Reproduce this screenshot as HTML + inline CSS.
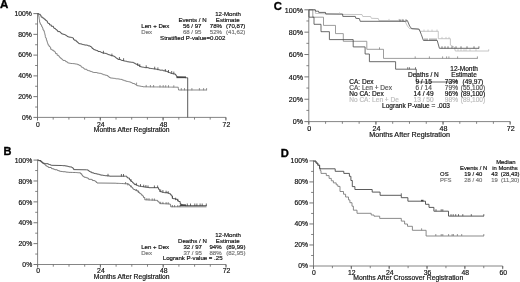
<!DOCTYPE html>
<html><head><meta charset="utf-8"><title>Figure</title>
<style>
html,body{margin:0;padding:0;background:#fff;}
body{width:520px;height:282px;overflow:hidden;}
svg{display:block;filter:blur(0.25px);font-family:"Liberation Sans",sans-serif;}
</style></head><body>
<svg width="520" height="282" viewBox="0 0 520 282">
<rect width="520" height="282" fill="#fff"/>
<path d="M37.5,13.1 V117.4 H225.89999999999998" stroke="#666" stroke-width="0.8" fill="none" />
<path d="M33.4,13.60 H37.5" stroke="#666" stroke-width="0.9" fill="none" />
<text x="31.9" y="15.90" font-size="6.8" fill="#111" text-anchor="end" font-weight="normal" stroke="#111" stroke-width="0.18">100%</text>
<path d="M35.1,23.98 H37.5" stroke="#666" stroke-width="0.8" fill="none" />
<path d="M33.4,34.36 H37.5" stroke="#666" stroke-width="0.9" fill="none" />
<text x="31.9" y="36.66" font-size="6.8" fill="#111" text-anchor="end" font-weight="normal" stroke="#111" stroke-width="0.18">80%</text>
<path d="M35.1,44.74 H37.5" stroke="#666" stroke-width="0.8" fill="none" />
<path d="M33.4,55.12 H37.5" stroke="#666" stroke-width="0.9" fill="none" />
<text x="31.9" y="57.42" font-size="6.8" fill="#111" text-anchor="end" font-weight="normal" stroke="#111" stroke-width="0.18">60%</text>
<path d="M35.1,65.50 H37.5" stroke="#666" stroke-width="0.8" fill="none" />
<path d="M33.4,75.88 H37.5" stroke="#666" stroke-width="0.9" fill="none" />
<text x="31.9" y="78.18" font-size="6.8" fill="#111" text-anchor="end" font-weight="normal" stroke="#111" stroke-width="0.18">40%</text>
<path d="M35.1,86.26 H37.5" stroke="#666" stroke-width="0.8" fill="none" />
<path d="M33.4,96.64 H37.5" stroke="#666" stroke-width="0.9" fill="none" />
<text x="31.9" y="98.94" font-size="6.8" fill="#111" text-anchor="end" font-weight="normal" stroke="#111" stroke-width="0.18">20%</text>
<path d="M35.1,107.02 H37.5" stroke="#666" stroke-width="0.8" fill="none" />
<path d="M33.4,117.40 H37.5" stroke="#666" stroke-width="0.9" fill="none" />
<text x="31.9" y="119.70" font-size="6.8" fill="#111" text-anchor="end" font-weight="normal" stroke="#111" stroke-width="0.18">0%</text>
<path d="M37.50,117.4 v2.2" stroke="#666" stroke-width="0.8" fill="none" />
<path d="M53.20,117.4 v2.2" stroke="#666" stroke-width="0.8" fill="none" />
<path d="M68.90,117.4 v2.2" stroke="#666" stroke-width="0.8" fill="none" />
<path d="M84.60,117.4 v2.2" stroke="#666" stroke-width="0.8" fill="none" />
<path d="M100.30,117.4 v2.2" stroke="#666" stroke-width="0.8" fill="none" />
<path d="M116.00,117.4 v2.2" stroke="#666" stroke-width="0.8" fill="none" />
<path d="M131.70,117.4 v2.2" stroke="#666" stroke-width="0.8" fill="none" />
<path d="M147.40,117.4 v2.2" stroke="#666" stroke-width="0.8" fill="none" />
<path d="M163.10,117.4 v2.2" stroke="#666" stroke-width="0.8" fill="none" />
<path d="M178.80,117.4 v2.2" stroke="#666" stroke-width="0.8" fill="none" />
<path d="M194.50,117.4 v2.2" stroke="#666" stroke-width="0.8" fill="none" />
<path d="M210.20,117.4 v2.2" stroke="#666" stroke-width="0.8" fill="none" />
<path d="M225.90,117.4 v2.2" stroke="#666" stroke-width="0.8" fill="none" />
<path d="M37.50,117.4 v3.2" stroke="#666" stroke-width="0.9" fill="none" />
<text x="38.00" y="126.70" font-size="6.8" fill="#111" text-anchor="middle" font-weight="normal" stroke="#111" stroke-width="0.18">0</text>
<path d="M100.30,117.4 v3.2" stroke="#666" stroke-width="0.9" fill="none" />
<text x="100.80" y="126.70" font-size="6.8" fill="#111" text-anchor="middle" font-weight="normal" stroke="#111" stroke-width="0.18">24</text>
<path d="M163.10,117.4 v3.2" stroke="#666" stroke-width="0.9" fill="none" />
<text x="163.60" y="126.70" font-size="6.8" fill="#111" text-anchor="middle" font-weight="normal" stroke="#111" stroke-width="0.18">48</text>
<path d="M225.90,117.4 v3.2" stroke="#666" stroke-width="0.9" fill="none" />
<text x="226.40" y="126.70" font-size="6.8" fill="#111" text-anchor="middle" font-weight="normal" stroke="#111" stroke-width="0.18">72</text>
<text x="93.8" y="131.60" font-size="6.75" fill="#111" text-anchor="start" font-weight="normal" stroke="#111" stroke-width="0.18">Months After Registration</text>
<text x="0.1" y="8.4" font-size="11.5" fill="#000" text-anchor="start" font-weight="bold" stroke="#000" stroke-width="0.35">A</text>
<path d="M37.5,13.6 L38.2,13.6 H38.35 V14.45 H38.51 V15.23 H38.73 V15.99 H38.86 V16.78 H39.08 V18.66 H39.26 V19.62 H39.60 V22.00 H39.96 V23.30 H40.41 V24.13 H40.91 V25.02 H41.61 V26.28 H41.93 V27.07 H42.57 V28.10 H42.95 V29.87 H43.72 V30.86 H44.28 V32.46 H44.60 V33.38 H44.90 V34.80 H45.24 V36.64 H45.45 V37.55 H45.96 V38.31 H46.40 V40.07 H46.85 V41.00 H47.11 V42.28 H47.52 V43.13 H47.81 V44.13 H48.22 V45.21 H49.10 V46.50 H50.01 V47.32 H50.65 V49.31 H52.04 V50.26 H53.66 V51.24 H54.90 V52.22 H55.50 V53.60 H57.13 V55.32 H58.60 V55.98 H59.22 V57.05 H60.13 V58.09 H61.31 V58.96 H62.30 V59.70 H63.00 V60.45 H65.13 V60.96 H65.81 V61.71 H67.14 V62.29 H67.70 V62.90 H68.40 V63.04 H69.16 V63.17 H70.02 V63.33 H70.84 V63.50 H72.70 V63.63 H74.61 V63.94 H76.20 V64.10 H77.62 V64.68 H79.02 V65.34 H80.42 V65.78 H81.10 V66.81 H81.69 V67.28 H82.60 V67.70 H83.50 V68.29 H84.14 V68.84 H84.67 V69.28 H86.80 V70.00 H87.34 V70.45 H88.54 V70.81 H90.00 V71.30 H91.13 V71.53 H91.80 V71.83 H92.44 V72.14 H93.39 V72.50 H96.86 V72.79 H97.52 V73.09 H99.27 V73.33 H100.88 V73.59 H101.64 V73.95 H102.64 V74.30 H103.38 V74.76 H104.86 V75.01 H105.63 V75.29 H106.98 V75.52 H107.82 V76.42 H108.94 V77.34 H110.00 V77.90 H111.04 V78.01 H111.72 V78.12 H113.17 V78.29 H114.17 V78.40 H115.41 V78.72 H116.10 V78.83 H118.62 V79.10 H119.97 V79.27 H120.60 V79.40 H122.09 V79.90 H123.19 V80.25 H124.35 V80.72 H125.80 V81.25 H127.30 V81.50 H128.30 V81.72 H129.38 V81.98 H130.59 V82.37 H131.30 V82.60 H132.05 V83.22 H132.64 V83.49 H134.38 V83.97 H135.16 V84.36 H135.86 V85.02 H136.89 V85.69 H138.42 V85.97 H140.31 V86.22 H141.35 V86.53 H143.00 V86.80 H145.07 V86.81 H146.39 V86.84 H147.31 V86.84 H147.98 V86.87 H148.89 V86.88 H149.62 V86.89 H150.53 V86.90 H151.24 V86.91 H154.07 V86.93 H155.76 V86.94 H156.44 V86.96 H158.37 V86.96 H158.97 V86.97 H162.09 V86.99 H163.18 V87.00 H163.89 V87.02 H165.60 V87.03 H166.63 V87.04 H167.77 V87.06 H168.48 V87.07 H169.24 V87.10 H169.85 V87.11 H170.53 V87.12 H171.71 V87.14 H173.34 V87.15 H174.00 V87.15 H174.67 V87.17 H175.90 V87.18 H176.92 V87.19 H178.00 V87.20 H178.25 V88.64 H178.50 V90.00 L206.8,90.0" stroke="#767676" stroke-width="0.85" fill="none" />
<path d="M37.5,13.6 L38.1,13.6 H38.73 V14.30 H40.31 V15.32 H41.09 V17.14 H42.80 V18.20 H44.14 V19.24 H45.40 V20.39 H46.63 V21.18 H47.43 V22.78 H48.20 V23.49 H49.52 V24.91 H51.30 V26.30 H53.46 V27.77 H54.16 V28.43 H55.33 V28.98 H55.90 V29.72 H56.89 V30.42 H57.70 V31.60 H59.96 V32.29 H60.66 V33.04 H61.47 V33.81 H62.69 V34.24 H64.18 V34.58 H65.00 V35.00 H65.81 V35.34 H66.53 V35.70 H67.12 V36.57 H68.05 V36.89 H69.34 V37.23 H71.36 V37.62 H72.50 V38.00 H73.49 V39.48 H74.27 V40.25 H76.21 V41.61 H77.46 V42.45 H78.26 V43.11 H78.90 V43.70 H80.19 V43.86 H80.95 V44.00 H82.08 V44.36 H82.77 V44.58 H83.77 V44.81 H84.73 V45.07 H87.40 V45.40 H88.14 V45.90 H90.11 V46.44 H91.00 V47.15 H92.06 V48.46 H93.22 V49.22 H93.80 V49.70 H94.96 V50.05 H96.11 V50.36 H96.77 V50.71 H98.02 V51.53 H100.32 V51.97 H101.32 V52.52 H102.30 V52.90 H103.13 V53.16 H105.04 V53.37 H106.39 V53.80 H107.15 V54.11 H108.14 V54.67 H109.21 V54.88 H110.00 V55.20 H111.32 V55.62 H112.69 V56.03 H114.28 V56.59 H115.10 V57.30 H115.79 V57.94 H116.50 V58.28 H117.19 V58.61 H117.85 V59.42 H120.60 V60.00 H121.28 V60.25 H121.89 V60.48 H123.34 V60.86 H124.32 V61.05 H125.43 V61.22 H126.84 V61.67 H127.71 V61.84 H129.28 V62.09 H131.30 V62.30 H133.36 V62.76 H134.18 V63.26 H135.27 V64.00 H136.65 V64.47 H137.87 V65.24 H139.12 V65.73 H139.80 V66.60 H140.83 V66.85 H141.49 V67.03 H142.57 V67.16 H143.65 V67.30 H144.31 V67.55 H145.05 V67.67 H148.10 V67.86 H149.12 V68.32 H150.34 V68.44 H151.10 V68.56 H152.50 V68.70 H153.10 V68.84 H154.76 V69.00 H155.94 V69.16 H156.79 V69.34 H157.51 V69.60 H158.61 V69.76 H159.35 V69.94 H159.96 V70.16 H163.20 V70.80 H165.52 V71.07 H166.44 V71.42 H167.77 V72.24 H168.66 V72.48 H169.63 V72.79 H170.53 V73.15 H171.30 V73.44 H172.57 V73.77 H173.80 V74.00 H175.51 V74.82 H176.17 V75.95 H177.00 V77.20 H180.29 V77.26 H181.31 V77.32 H182.44 V77.38 H183.09 V77.45 H184.28 V77.53 H184.99 V77.64 H185.63 V77.70 H186.53 V77.81 H187.70 V77.90 L187.7,117.4" stroke="#444" stroke-width="0.88" fill="none" />
<path d="M103.4,53.5 v-2.6999999999999997 M111.9,56.3 v-2.6999999999999997 M119.4,59.7 v-2.6999999999999997 M123.6,60.9 v-2.6999999999999997 M137.7,65.8 v-2.6999999999999997 M139.8,66.9 v-2.6999999999999997 M146.2,68.0 v-2.6999999999999997 M154.7,69.4 v-2.6999999999999997 M157.9,70.1 v-2.6999999999999997 M165.3,71.7 v-2.6999999999999997 M168.5,72.7 v-2.6999999999999997 M171.7,73.7 v-2.6999999999999997 M173.8,74.3 v-2.6999999999999997" stroke="#444" stroke-width="0.8" fill="none" />
<path d="M176.5,77.3 H186" stroke="#444" stroke-width="1.7" fill="none" />
<path d="M136.6,84.8 v-2.1999999999999997 M146.2,87.1 v-2.1999999999999997 M150.4,87.2 v-2.1999999999999997 M153.6,87.2 v-2.1999999999999997 M160.0,87.3 v-2.1999999999999997 M163.2,87.3 v-2.1999999999999997 M165.7,87.4 v-2.1999999999999997 M168.5,87.4 v-2.1999999999999997 M173.8,87.5 v-2.1999999999999997 M181.3,90.3 v-2.1999999999999997 M184.5,90.3 v-2.1999999999999997 M191.9,90.3 v-2.1999999999999997 M199.4,90.3 v-2.1999999999999997 M203.6,90.3 v-2.1999999999999997 M206.6,90.3 v-2.1999999999999997" stroke="#767676" stroke-width="0.8" fill="none" />
<text x="228" y="16.4" font-size="6.1" fill="#111" text-anchor="middle" font-weight="normal" stroke="#111" stroke-width="0.18">12-Month</text>
<text x="192.5" y="22.2" font-size="6.1" fill="#111" text-anchor="middle" font-weight="normal" stroke="#111" stroke-width="0.18">Events / N</text>
<text x="227.7" y="22.2" font-size="6.1" fill="#111" text-anchor="middle" font-weight="normal" stroke="#111" stroke-width="0.18">Estimate</text>
<text x="141.3" y="28.0" font-size="6.1" fill="#111" text-anchor="start" font-weight="normal" stroke="#111" stroke-width="0.18">Len + Dex</text>
<text x="192.2" y="28.0" font-size="6.1" fill="#111" text-anchor="middle" font-weight="normal" stroke="#111" stroke-width="0.18">56 / 97</text>
<text x="215.9" y="28.0" font-size="6.1" fill="#111" text-anchor="middle" font-weight="normal" stroke="#111" stroke-width="0.18">78%</text>
<text x="235.7" y="28.0" font-size="6.1" fill="#111" text-anchor="middle" font-weight="normal" stroke="#111" stroke-width="0.18">(70,87)</text>
<text x="141.3" y="33.7" font-size="6.1" fill="#777" text-anchor="start" font-weight="normal" stroke="#777" stroke-width="0.18">Dex</text>
<text x="192.2" y="33.7" font-size="6.1" fill="#777" text-anchor="middle" font-weight="normal" stroke="#777" stroke-width="0.18">68 / 95</text>
<text x="215.9" y="33.7" font-size="6.1" fill="#777" text-anchor="middle" font-weight="normal" stroke="#777" stroke-width="0.18">52%</text>
<text x="235.7" y="33.7" font-size="6.1" fill="#777" text-anchor="middle" font-weight="normal" stroke="#777" stroke-width="0.18">(41,62)</text>
<text x="192.7" y="39.5" font-size="6.1" fill="#111" text-anchor="middle" font-weight="normal" stroke="#111" stroke-width="0.18">Stratified P-value=0.002</text>
<path d="M37.6,159.6 V264.5 H225.99999999999997" stroke="#666" stroke-width="0.8" fill="none" />
<path d="M33.5,160.10 H37.6" stroke="#666" stroke-width="0.9" fill="none" />
<text x="32.2" y="162.80" font-size="6.8" fill="#111" text-anchor="end" font-weight="normal" stroke="#111" stroke-width="0.18">100%</text>
<path d="M35.2,170.54 H37.6" stroke="#666" stroke-width="0.8" fill="none" />
<path d="M33.5,180.98 H37.6" stroke="#666" stroke-width="0.9" fill="none" />
<text x="32.2" y="183.68" font-size="6.8" fill="#111" text-anchor="end" font-weight="normal" stroke="#111" stroke-width="0.18">80%</text>
<path d="M35.2,191.42 H37.6" stroke="#666" stroke-width="0.8" fill="none" />
<path d="M33.5,201.86 H37.6" stroke="#666" stroke-width="0.9" fill="none" />
<text x="32.2" y="204.56" font-size="6.8" fill="#111" text-anchor="end" font-weight="normal" stroke="#111" stroke-width="0.18">60%</text>
<path d="M35.2,212.30 H37.6" stroke="#666" stroke-width="0.8" fill="none" />
<path d="M33.5,222.74 H37.6" stroke="#666" stroke-width="0.9" fill="none" />
<text x="32.2" y="225.44" font-size="6.8" fill="#111" text-anchor="end" font-weight="normal" stroke="#111" stroke-width="0.18">40%</text>
<path d="M35.2,233.18 H37.6" stroke="#666" stroke-width="0.8" fill="none" />
<path d="M33.5,243.62 H37.6" stroke="#666" stroke-width="0.9" fill="none" />
<text x="32.2" y="246.32" font-size="6.8" fill="#111" text-anchor="end" font-weight="normal" stroke="#111" stroke-width="0.18">20%</text>
<path d="M35.2,254.06 H37.6" stroke="#666" stroke-width="0.8" fill="none" />
<path d="M33.5,264.50 H37.6" stroke="#666" stroke-width="0.9" fill="none" />
<text x="32.2" y="267.20" font-size="6.8" fill="#111" text-anchor="end" font-weight="normal" stroke="#111" stroke-width="0.18">0%</text>
<path d="M37.60,264.5 v2.2" stroke="#666" stroke-width="0.8" fill="none" />
<path d="M53.30,264.5 v2.2" stroke="#666" stroke-width="0.8" fill="none" />
<path d="M69.00,264.5 v2.2" stroke="#666" stroke-width="0.8" fill="none" />
<path d="M84.70,264.5 v2.2" stroke="#666" stroke-width="0.8" fill="none" />
<path d="M100.40,264.5 v2.2" stroke="#666" stroke-width="0.8" fill="none" />
<path d="M116.10,264.5 v2.2" stroke="#666" stroke-width="0.8" fill="none" />
<path d="M131.80,264.5 v2.2" stroke="#666" stroke-width="0.8" fill="none" />
<path d="M147.50,264.5 v2.2" stroke="#666" stroke-width="0.8" fill="none" />
<path d="M163.20,264.5 v2.2" stroke="#666" stroke-width="0.8" fill="none" />
<path d="M178.90,264.5 v2.2" stroke="#666" stroke-width="0.8" fill="none" />
<path d="M194.60,264.5 v2.2" stroke="#666" stroke-width="0.8" fill="none" />
<path d="M210.30,264.5 v2.2" stroke="#666" stroke-width="0.8" fill="none" />
<path d="M226.00,264.5 v2.2" stroke="#666" stroke-width="0.8" fill="none" />
<path d="M37.60,264.5 v3.2" stroke="#666" stroke-width="0.9" fill="none" />
<text x="38.10" y="273.10" font-size="6.8" fill="#111" text-anchor="middle" font-weight="normal" stroke="#111" stroke-width="0.18">0</text>
<path d="M100.40,264.5 v3.2" stroke="#666" stroke-width="0.9" fill="none" />
<text x="100.90" y="273.10" font-size="6.8" fill="#111" text-anchor="middle" font-weight="normal" stroke="#111" stroke-width="0.18">24</text>
<path d="M163.20,264.5 v3.2" stroke="#666" stroke-width="0.9" fill="none" />
<text x="163.70" y="273.10" font-size="6.8" fill="#111" text-anchor="middle" font-weight="normal" stroke="#111" stroke-width="0.18">48</text>
<path d="M226.00,264.5 v3.2" stroke="#666" stroke-width="0.9" fill="none" />
<text x="226.50" y="273.10" font-size="6.8" fill="#111" text-anchor="middle" font-weight="normal" stroke="#111" stroke-width="0.18">72</text>
<text x="93.8" y="278.80" font-size="6.75" fill="#111" text-anchor="start" font-weight="normal" stroke="#111" stroke-width="0.18">Months After Registration</text>
<text x="3.5" y="155.0" font-size="11" fill="#000" text-anchor="start" font-weight="bold" stroke="#000" stroke-width="0.35">B</text>
<path d="M37.6,160.1 L38.1,160.1 H38.68 V160.71 H40.90 V162.03 H41.93 V162.57 H42.68 V163.29 H43.65 V163.94 H44.90 V164.90 H45.82 V165.90 H46.99 V166.42 H47.79 V166.81 H48.46 V167.49 H51.04 V167.94 H51.67 V168.70 H53.40 V169.10 H54.18 V169.33 H54.94 V169.76 H56.97 V170.03 H57.59 V170.48 H58.52 V170.85 H59.80 V171.30 H60.66 V171.43 H62.16 V171.55 H62.86 V171.74 H65.08 V171.83 H65.71 V171.94 H66.38 V172.17 H68.30 V172.30 H68.98 V172.36 H70.90 V172.40 H72.45 V172.44 H73.09 V172.48 H75.59 V172.57 H76.80 V172.62 H77.55 V172.72 H78.20 V172.76 H78.90 V172.80 H80.53 V173.72 H81.74 V175.01 H82.42 V175.87 H83.20 V176.60 H83.82 V176.88 H84.52 V177.33 H86.30 V177.83 H87.54 V178.14 H88.30 V178.93 H88.93 V179.32 H91.70 V179.80 H92.55 V180.55 H94.65 V181.04 H95.51 V181.45 H96.27 V182.49 H97.00 V183.00 L115.1,183.2 H115.94 V183.29 H116.80 V183.34 H118.29 V183.38 H119.33 V183.43 H120.26 V183.49 H121.69 V183.56 H123.57 V183.70 H125.01 V183.75 H125.60 V183.80 H128.15 V184.27 H129.26 V185.28 H130.03 V185.83 H130.66 V186.48 H131.28 V186.89 H132.00 V187.70 H132.82 V188.90 H133.76 V189.53 H135.04 V190.19 H137.17 V191.05 H138.23 V192.26 H139.58 V193.40 H140.50 V194.00 H141.68 V195.25 H142.77 V196.13 H143.52 V197.52 H144.80 V199.80 H146.20 V199.86 H147.10 V199.89 H147.77 V199.97 H148.43 V200.01 H150.36 V200.06 H151.22 V200.12 H154.19 V200.19 H154.78 V200.27 H155.89 V200.34 H156.50 V200.40 H157.70 V201.47 H158.41 V202.16 H159.70 V203.60 H160.60 V203.66 H161.50 V203.70 H162.83 V203.73 H164.52 V203.78 H165.72 V203.82 H167.44 V203.92 H168.54 V203.96 H169.30 V204.00 H170.26 V204.86 H170.70 V206.80 L206.5,206.8" stroke="#666" stroke-width="0.85" fill="none" />
<path d="M37.6,160.1 L38.1,160.1 H38.76 V160.57 H40.94 V161.62 H41.97 V162.22 H42.80 V163.20 H44.46 V163.47 H45.68 V163.69 H48.13 V164.18 H48.86 V164.49 H49.77 V164.71 H50.57 V165.07 H51.30 V165.30 L61.9,165.5 H62.68 V165.71 H65.06 V165.90 H66.07 V166.04 H67.08 V166.20 H68.19 V166.53 H68.87 V166.82 H70.40 V167.00 H71.95 V167.59 H72.58 V168.16 H73.60 V169.60 L86.4,169.8 H87.52 V170.17 H88.49 V170.88 H89.38 V171.43 H90.06 V171.96 H91.70 V172.80 H93.30 V173.00 H93.96 V173.42 H95.54 V173.76 H96.87 V174.09 H98.49 V174.29 H99.42 V174.69 H100.20 V174.90 H100.96 V175.10 H102.49 V175.20 H103.23 V175.41 H104.22 V175.55 H105.22 V175.74 H107.00 V175.87 H108.84 V176.00 H109.80 V176.20 L125.6,176.2 H126.76 V177.26 H127.52 V178.03 H129.43 V179.59 H130.38 V180.59 H131.00 V181.30 H132.03 V181.98 H132.65 V182.81 H133.70 V183.68 H134.43 V184.57 H136.30 V185.10 H136.97 V185.32 H137.74 V185.70 H138.45 V186.17 H141.00 V186.36 H141.60 V186.60 H142.90 V186.72 H144.05 V186.99 H146.16 V187.22 H147.51 V187.37 H148.37 V187.56 H149.00 V187.70 L157.6,187.7 H158.52 V189.34 H159.70 V191.50 H160.31 V191.70 H161.49 V191.99 H162.31 V192.27 H163.44 V192.49 H164.39 V192.69 H167.89 V193.14 H168.53 V193.29 H169.30 V193.60 H170.39 V194.90 H171.76 V196.16 H172.40 V198.30 H173.03 V198.66 H174.78 V198.99 H176.45 V199.34 H177.13 V199.91 H177.94 V201.08 H178.80 V201.50 H180.17 V203.61 H181.00 V204.70 H182.10 V204.95 H182.76 V205.25 H184.59 V205.44 H185.20 V205.70 L206.5,205.7" stroke="#444" stroke-width="0.88" fill="none" />
<path d="M108.0,176.3 v-2.5 M121.4,176.5 v-2.5 M123.5,176.5 v-2.5 M131.0,181.6 v-2.5 M136.3,185.4 v-2.5 M140.5,186.6 v-2.5 M143.7,187.2 v-2.5 M145.9,187.5 v-2.5 M148.0,187.9 v-2.5 M154.4,188.0 v-2.5 M157.6,188.0 v-2.5 M160.7,192.0 v-2.5 M162.9,192.5 v-2.5 M166.1,193.2 v-2.5 M168.2,193.7 v-2.5 M172.4,198.6 v-2.5 M175.6,200.2 v-2.5 M177.8,201.3 v-2.5" stroke="#444" stroke-width="0.8" fill="none" />
<path d="M180,205.2 H186" stroke="#444" stroke-width="1.6" fill="none" />
<path d="M187.3,206.0 v-2.5 M190.5,206.0 v-2.5 M194.8,206.0 v-2.5 M196.9,206.0 v-2.5 M200.1,206.0 v-2.5 M202.2,206.0 v-2.5 M206.3,206.0 v-2.5" stroke="#444" stroke-width="0.8" fill="none" />
<path d="M125.6,184.1 v-2.1 M127.8,185.4 v-2.1 M131.0,187.4 v-2.1 M136.3,191.2 v-2.1 M138.4,192.7 v-2.1 M146.9,200.2 v-2.1 M149.0,200.3 v-2.1 M152.2,200.5 v-2.1 M154.4,200.6 v-2.1 M160.7,203.9 v-2.1 M162.9,204.0 v-2.1 M166.1,204.2 v-2.1 M168.2,204.3 v-2.1 M172.4,207.1 v-2.1 M174.6,207.1 v-2.1 M177.8,207.1 v-2.1 M179.9,207.1 v-2.1" stroke="#666" stroke-width="0.8" fill="none" />
<text x="228" y="237.4" font-size="6.1" fill="#111" text-anchor="middle" font-weight="normal" stroke="#111" stroke-width="0.18">12-Month</text>
<text x="192.4" y="243.1" font-size="6.1" fill="#111" text-anchor="middle" font-weight="normal" stroke="#111" stroke-width="0.18">Deaths / N</text>
<text x="227.7" y="243.1" font-size="6.1" fill="#111" text-anchor="middle" font-weight="normal" stroke="#111" stroke-width="0.18">Estimate</text>
<text x="141.2" y="248.8" font-size="6.1" fill="#111" text-anchor="start" font-weight="normal" stroke="#111" stroke-width="0.18">Len + Dex</text>
<text x="192.7" y="248.8" font-size="6.1" fill="#111" text-anchor="middle" font-weight="normal" stroke="#111" stroke-width="0.18">32 / 97</text>
<text x="215.5" y="248.8" font-size="6.1" fill="#111" text-anchor="middle" font-weight="normal" stroke="#111" stroke-width="0.18">94%</text>
<text x="235.8" y="248.8" font-size="6.1" fill="#111" text-anchor="middle" font-weight="normal" stroke="#111" stroke-width="0.18">(89,99)</text>
<text x="141.2" y="254.5" font-size="6.1" fill="#777" text-anchor="start" font-weight="normal" stroke="#777" stroke-width="0.18">Dex</text>
<text x="192.7" y="254.5" font-size="6.1" fill="#777" text-anchor="middle" font-weight="normal" stroke="#777" stroke-width="0.18">37 / 95</text>
<text x="215.5" y="254.5" font-size="6.1" fill="#777" text-anchor="middle" font-weight="normal" stroke="#777" stroke-width="0.18">88%</text>
<text x="235.8" y="254.5" font-size="6.1" fill="#777" text-anchor="middle" font-weight="normal" stroke="#777" stroke-width="0.18">(82,95)</text>
<text x="192.7" y="260.3" font-size="6.1" fill="#111" text-anchor="middle" font-weight="normal" stroke="#111" stroke-width="0.18">Logrank P-value = .25</text>
<path d="M308.8,9.3 V121.6 H510.16" stroke="#666" stroke-width="0.8" fill="none" />
<path d="M304.40000000000003,9.80 H308.8" stroke="#666" stroke-width="0.9" fill="none" />
<text x="303.0" y="12.50" font-size="7.1" fill="#111" text-anchor="end" font-weight="normal" stroke="#111" stroke-width="0.18">100%</text>
<path d="M306.40000000000003,20.98 H308.8" stroke="#666" stroke-width="0.8" fill="none" />
<path d="M304.40000000000003,32.16 H308.8" stroke="#666" stroke-width="0.9" fill="none" />
<text x="303.0" y="34.86" font-size="7.1" fill="#111" text-anchor="end" font-weight="normal" stroke="#111" stroke-width="0.18">80%</text>
<path d="M306.40000000000003,43.34 H308.8" stroke="#666" stroke-width="0.8" fill="none" />
<path d="M304.40000000000003,54.52 H308.8" stroke="#666" stroke-width="0.9" fill="none" />
<text x="303.0" y="57.22" font-size="7.1" fill="#111" text-anchor="end" font-weight="normal" stroke="#111" stroke-width="0.18">60%</text>
<path d="M306.40000000000003,65.70 H308.8" stroke="#666" stroke-width="0.8" fill="none" />
<path d="M304.40000000000003,76.88 H308.8" stroke="#666" stroke-width="0.9" fill="none" />
<text x="303.0" y="79.58" font-size="7.1" fill="#111" text-anchor="end" font-weight="normal" stroke="#111" stroke-width="0.18">40%</text>
<path d="M306.40000000000003,88.06 H308.8" stroke="#666" stroke-width="0.8" fill="none" />
<path d="M304.40000000000003,99.24 H308.8" stroke="#666" stroke-width="0.9" fill="none" />
<text x="303.0" y="101.94" font-size="7.1" fill="#111" text-anchor="end" font-weight="normal" stroke="#111" stroke-width="0.18">20%</text>
<path d="M306.40000000000003,110.42 H308.8" stroke="#666" stroke-width="0.8" fill="none" />
<path d="M304.40000000000003,121.60 H308.8" stroke="#666" stroke-width="0.9" fill="none" />
<text x="303.0" y="124.30" font-size="7.1" fill="#111" text-anchor="end" font-weight="normal" stroke="#111" stroke-width="0.18">0%</text>
<path d="M308.80,121.6 v2.2" stroke="#666" stroke-width="0.8" fill="none" />
<path d="M325.58,121.6 v2.2" stroke="#666" stroke-width="0.8" fill="none" />
<path d="M342.36,121.6 v2.2" stroke="#666" stroke-width="0.8" fill="none" />
<path d="M359.14,121.6 v2.2" stroke="#666" stroke-width="0.8" fill="none" />
<path d="M375.92,121.6 v2.2" stroke="#666" stroke-width="0.8" fill="none" />
<path d="M392.70,121.6 v2.2" stroke="#666" stroke-width="0.8" fill="none" />
<path d="M409.48,121.6 v2.2" stroke="#666" stroke-width="0.8" fill="none" />
<path d="M426.26,121.6 v2.2" stroke="#666" stroke-width="0.8" fill="none" />
<path d="M443.04,121.6 v2.2" stroke="#666" stroke-width="0.8" fill="none" />
<path d="M459.82,121.6 v2.2" stroke="#666" stroke-width="0.8" fill="none" />
<path d="M476.60,121.6 v2.2" stroke="#666" stroke-width="0.8" fill="none" />
<path d="M493.38,121.6 v2.2" stroke="#666" stroke-width="0.8" fill="none" />
<path d="M510.16,121.6 v2.2" stroke="#666" stroke-width="0.8" fill="none" />
<path d="M308.80,121.6 v3.2" stroke="#666" stroke-width="0.9" fill="none" />
<text x="309.30" y="130.60" font-size="7.1" fill="#111" text-anchor="middle" font-weight="normal" stroke="#111" stroke-width="0.18">0</text>
<path d="M375.92,121.6 v3.2" stroke="#666" stroke-width="0.9" fill="none" />
<text x="376.42" y="130.60" font-size="7.1" fill="#111" text-anchor="middle" font-weight="normal" stroke="#111" stroke-width="0.18">24</text>
<path d="M443.04,121.6 v3.2" stroke="#666" stroke-width="0.9" fill="none" />
<text x="443.54" y="130.60" font-size="7.1" fill="#111" text-anchor="middle" font-weight="normal" stroke="#111" stroke-width="0.18">48</text>
<path d="M510.16,121.6 v3.2" stroke="#666" stroke-width="0.9" fill="none" />
<text x="510.66" y="130.60" font-size="7.1" fill="#111" text-anchor="middle" font-weight="normal" stroke="#111" stroke-width="0.18">72</text>
<text x="369.2" y="136.70" font-size="7.2" fill="#111" text-anchor="start" font-weight="normal" stroke="#111" stroke-width="0.18">Months After Registration</text>
<text x="273.8" y="10.3" font-size="11.3" fill="#000" text-anchor="start" font-weight="bold" stroke="#000" stroke-width="0.35">C</text>
<path d="M309.0,9.8 L315.3,9.8 L315.4,13.4 L340.0,14.4 L362.0,14.5 L362.8,16.5 L370.6,16.5 L371.4,18.3 L378.3,18.5 L379.0,20.7 L403.0,20.7 L405.3,21.7 L407.4,26.0 L409.5,28.5 L418.0,29.1 L420.2,31.3 L438.3,31.3 L438.3,38.7 L450.4,38.7 L450.4,45.1 L454.3,47.2 L455.3,51.0 L488.9,51.0" stroke="#b8b8b8" stroke-width="0.8" fill="none" />
<path d="M309,9.8 H312.8 V17.2 H323.5 V25.4 H335.5 V33.6 H343.3 V41.3 H366.8 V49.3 H383.5 V58.4 H477.7" stroke="#858585" stroke-width="0.8" fill="none" />
<path d="M309.0,9.8 L315.3,9.8 L315.5,11.2 L318.5,11.2 L318.7,12.4 L325.5,12.4 L325.7,14.0 L342.6,14.0 L342.8,16.4 L355.3,16.4 L355.8,18.3 L359.4,18.6 L360.2,21.3 L405.5,21.3 L407.4,20.6 L409.6,26.0 L411.7,28.7 L419.1,29.1 L421.3,34.5 L423.4,40.4 L437.2,40.4 L439.4,48.3 L479.1,48.3" stroke="#4a4a4a" stroke-width="0.82" fill="none" />
<path d="M309,9.8 V17.2 H314 V24.3 H321 V31.7 H329.4 V39.6 H353.2 V46.9 H365.1 V54 H369.4 V61.7 H395.6 V69.2 H416.3 V82 H457" stroke="#4a4a4a" stroke-width="0.82" fill="none" />
<path d="M339.5,14.2 v-1.8" stroke="#b8b8b8" stroke-width="0.7" fill="none" />
<path d="M389.0,20.7 v-1.8 M399.0,20.7 v-1.8 M402.0,20.7 v-1.8 M424.0,31.3 v-1.8 M428.0,31.3 v-1.8 M432.0,31.3 v-1.8 M437.0,31.3 v-1.8 M442.0,38.7 v-1.8 M446.0,38.7 v-1.8 M449.0,38.7 v-1.8 M458.0,51.0 v-1.8 M461.0,51.0 v-1.8 M464.0,51.0 v-1.8 M466.0,51.0 v-1.8 M470.0,51.0 v-1.8 M476.0,51.0 v-1.8 M488.7,51.0 v-1.8" stroke="#b8b8b8" stroke-width="0.7" fill="none" />
<path d="M400.0,21.3 v-2.0 M403.0,21.3 v-2.0 M406.0,21.3 v-2.0 M425.0,40.4 v-2.0 M427.0,40.4 v-2.0 M430.0,40.4 v-2.0 M432.0,40.4 v-2.0 M434.0,40.4 v-2.0 M436.0,40.4 v-2.0 M442.0,48.3 v-2.0 M445.0,48.3 v-2.0 M448.0,48.3 v-2.0 M452.0,48.3 v-2.0 M456.0,48.3 v-2.0 M461.0,48.3 v-2.0 M467.0,48.3 v-2.0 M474.0,48.3 v-2.0 M478.9,48.3 v-2.0" stroke="#444" stroke-width="0.7" fill="none" />
<path d="M379.5,49.3 v-2.0 M415.2,58.4 v-2.0 M429.4,58.4 v-2.0 M442.6,58.4 v-2.0 M446.6,58.4 v-2.0 M448.9,58.4 v-2.0 M457.6,58.4 v-2.0 M477.4,58.4 v-2.0" stroke="#767676" stroke-width="0.7" fill="none" />
<path d="M407.7,69.2 v-2.0 M409.4,69.2 v-2.0 M415.5,69.2 v-2.0 M456.8,82.0 v-2.0" stroke="#444" stroke-width="0.7" fill="none" />
<text x="464.1" y="71.3" font-size="6.55" fill="#111" text-anchor="middle" font-weight="normal" stroke="#111" stroke-width="0.18">12-Month</text>
<text x="423.4" y="77.35" font-size="6.55" fill="#111" text-anchor="middle" font-weight="normal" stroke="#111" stroke-width="0.18">Deaths / N</text>
<text x="464.1" y="77.35" font-size="6.55" fill="#111" text-anchor="middle" font-weight="normal" stroke="#111" stroke-width="0.18">Estimate</text>
<text x="349.2" y="83.5" font-size="6.55" fill="#111" text-anchor="start" font-weight="normal" stroke="#111" stroke-width="0.18">CA: Dex</text>
<text x="423.6" y="83.5" font-size="6.55" fill="#111" text-anchor="middle" font-weight="normal" stroke="#111" stroke-width="0.18">9 / 15</text>
<text x="451.4" y="83.5" font-size="6.55" fill="#111" text-anchor="middle" font-weight="normal" stroke="#111" stroke-width="0.18">73%</text>
<text x="472.9" y="83.5" font-size="6.55" fill="#111" text-anchor="middle" font-weight="normal" stroke="#111" stroke-width="0.18">(49,97)</text>
<text x="349.2" y="89.6" font-size="6.55" fill="#545454" text-anchor="start" font-weight="normal" stroke="#545454" stroke-width="0.18">CA: Len + Dex</text>
<text x="423.6" y="89.6" font-size="6.55" fill="#545454" text-anchor="middle" font-weight="normal" stroke="#545454" stroke-width="0.18">6 / 14</text>
<text x="451.4" y="89.6" font-size="6.55" fill="#545454" text-anchor="middle" font-weight="normal" stroke="#545454" stroke-width="0.18">79%</text>
<text x="472.9" y="89.6" font-size="6.55" fill="#545454" text-anchor="middle" font-weight="normal" stroke="#545454" stroke-width="0.18">(55,100)</text>
<text x="349.2" y="95.6" font-size="6.55" fill="#111" text-anchor="start" font-weight="normal" stroke="#111" stroke-width="0.18">No CA: Dex</text>
<text x="423.6" y="95.6" font-size="6.55" fill="#111" text-anchor="middle" font-weight="normal" stroke="#111" stroke-width="0.18">14 / 49</text>
<text x="451.4" y="95.6" font-size="6.55" fill="#111" text-anchor="middle" font-weight="normal" stroke="#111" stroke-width="0.18">96%</text>
<text x="472.9" y="95.6" font-size="6.55" fill="#111" text-anchor="middle" font-weight="normal" stroke="#111" stroke-width="0.18">(89,100)</text>
<text x="349.2" y="101.6" font-size="6.55" fill="#bdbdbd" text-anchor="start" font-weight="normal" stroke="#bdbdbd" stroke-width="0.18">No CA: Len + De</text>
<text x="423.6" y="101.6" font-size="6.55" fill="#bdbdbd" text-anchor="middle" font-weight="normal" stroke="#bdbdbd" stroke-width="0.18">13 / 50</text>
<text x="451.4" y="101.6" font-size="6.55" fill="#bdbdbd" text-anchor="middle" font-weight="normal" stroke="#bdbdbd" stroke-width="0.18">98%</text>
<text x="472.9" y="101.6" font-size="6.55" fill="#bdbdbd" text-anchor="middle" font-weight="normal" stroke="#bdbdbd" stroke-width="0.18">(89,100)</text>
<text x="416" y="107.6" font-size="6.55" fill="#111" text-anchor="middle" font-weight="normal" stroke="#111" stroke-width="0.18">Logrank P-value = .003</text>
<path d="M313.5,160.4 V266.0 H502.70000000000005" stroke="#666" stroke-width="0.8" fill="none" />
<path d="M309.4,160.90 H313.5" stroke="#666" stroke-width="0.9" fill="none" />
<text x="308.0" y="163.20" font-size="6.8" fill="#111" text-anchor="end" font-weight="normal" stroke="#111" stroke-width="0.18">100%</text>
<path d="M311.1,171.41 H313.5" stroke="#666" stroke-width="0.8" fill="none" />
<path d="M309.4,181.92 H313.5" stroke="#666" stroke-width="0.9" fill="none" />
<text x="308.0" y="184.22" font-size="6.8" fill="#111" text-anchor="end" font-weight="normal" stroke="#111" stroke-width="0.18">80%</text>
<path d="M311.1,192.43 H313.5" stroke="#666" stroke-width="0.8" fill="none" />
<path d="M309.4,202.94 H313.5" stroke="#666" stroke-width="0.9" fill="none" />
<text x="308.0" y="205.24" font-size="6.8" fill="#111" text-anchor="end" font-weight="normal" stroke="#111" stroke-width="0.18">60%</text>
<path d="M311.1,213.45 H313.5" stroke="#666" stroke-width="0.8" fill="none" />
<path d="M309.4,223.96 H313.5" stroke="#666" stroke-width="0.9" fill="none" />
<text x="308.0" y="226.26" font-size="6.8" fill="#111" text-anchor="end" font-weight="normal" stroke="#111" stroke-width="0.18">40%</text>
<path d="M311.1,234.47 H313.5" stroke="#666" stroke-width="0.8" fill="none" />
<path d="M309.4,244.98 H313.5" stroke="#666" stroke-width="0.9" fill="none" />
<text x="308.0" y="247.28" font-size="6.8" fill="#111" text-anchor="end" font-weight="normal" stroke="#111" stroke-width="0.18">20%</text>
<path d="M311.1,255.49 H313.5" stroke="#666" stroke-width="0.8" fill="none" />
<path d="M309.4,266.00 H313.5" stroke="#666" stroke-width="0.9" fill="none" />
<text x="308.0" y="268.30" font-size="6.8" fill="#111" text-anchor="end" font-weight="normal" stroke="#111" stroke-width="0.18">0%</text>
<path d="M313.50,266.0 v2.2" stroke="#666" stroke-width="0.8" fill="none" />
<path d="M332.42,266.0 v2.2" stroke="#666" stroke-width="0.8" fill="none" />
<path d="M351.34,266.0 v2.2" stroke="#666" stroke-width="0.8" fill="none" />
<path d="M370.26,266.0 v2.2" stroke="#666" stroke-width="0.8" fill="none" />
<path d="M389.18,266.0 v2.2" stroke="#666" stroke-width="0.8" fill="none" />
<path d="M408.10,266.0 v2.2" stroke="#666" stroke-width="0.8" fill="none" />
<path d="M427.02,266.0 v2.2" stroke="#666" stroke-width="0.8" fill="none" />
<path d="M445.94,266.0 v2.2" stroke="#666" stroke-width="0.8" fill="none" />
<path d="M464.86,266.0 v2.2" stroke="#666" stroke-width="0.8" fill="none" />
<path d="M483.78,266.0 v2.2" stroke="#666" stroke-width="0.8" fill="none" />
<path d="M502.70,266.0 v2.2" stroke="#666" stroke-width="0.8" fill="none" />
<path d="M313.50,266.0 v3.2" stroke="#666" stroke-width="0.9" fill="none" />
<text x="314.00" y="275.00" font-size="6.8" fill="#111" text-anchor="middle" font-weight="normal" stroke="#111" stroke-width="0.18">0</text>
<path d="M351.34,266.0 v3.2" stroke="#666" stroke-width="0.9" fill="none" />
<text x="351.84" y="275.00" font-size="6.8" fill="#111" text-anchor="middle" font-weight="normal" stroke="#111" stroke-width="0.18">12</text>
<path d="M389.18,266.0 v3.2" stroke="#666" stroke-width="0.9" fill="none" />
<text x="389.68" y="275.00" font-size="6.8" fill="#111" text-anchor="middle" font-weight="normal" stroke="#111" stroke-width="0.18">24</text>
<path d="M427.02,266.0 v3.2" stroke="#666" stroke-width="0.9" fill="none" />
<text x="427.52" y="275.00" font-size="6.8" fill="#111" text-anchor="middle" font-weight="normal" stroke="#111" stroke-width="0.18">36</text>
<path d="M464.86,266.0 v3.2" stroke="#666" stroke-width="0.9" fill="none" />
<text x="465.36" y="275.00" font-size="6.8" fill="#111" text-anchor="middle" font-weight="normal" stroke="#111" stroke-width="0.18">48</text>
<path d="M502.70,266.0 v3.2" stroke="#666" stroke-width="0.9" fill="none" />
<text x="503.20" y="275.00" font-size="6.8" fill="#111" text-anchor="middle" font-weight="normal" stroke="#111" stroke-width="0.18">60</text>
<text x="353.3" y="280.20" font-size="6.85" fill="#111" text-anchor="start" font-weight="normal" stroke="#111" stroke-width="0.18">Months After Crossover Registration</text>
<text x="280.8" y="156.8" font-size="11.2" fill="#000" text-anchor="start" font-weight="bold" stroke="#000" stroke-width="0.35">D</text>
<path d="M313.5,161.1 H316 V163.1 H317.8 V165.2 H319.6 V168 H320.2 V170.6 H321 V173.4 H326.3 V175.6 H329.1 V178.4 H331.3 V180.8 H333.4 V182.9 H336.2 V184.8 H337.8 V186.4 H340 V191.5 H343.5 V194.2 H345.6 V197 H348.5 V199.9 H349.9 V202.7 H352 V206.2 H353.4 V210.2 H357 V213.3 H371.2 V215 H374 V216.2 H379.7 V218.4 H401.3 V221.1 H404.6 V224 H407.5 V226.3 H412.4 V230.3 H426.1 V236.0 H484" stroke="#767676" stroke-width="0.85" fill="none" />
<path d="M313.5,161.1 H316 V163.1 H317.8 V165.2 H319.6 V168.8 H335.2 V171.3 H343.8 V173.4 H349.4 V176.3 H350.9 V180.5 H352.3 V186.6 H354.9 V189.5 H372.2 V192.1 H380.1 V195.3 H401.3 V197.7 H407.9 V201.2 H425.5 V204.3 H429 V207.4 H433.9 V211.2 H448.5 V216.1 H484" stroke="#444" stroke-width="0.88" fill="none" />
<path d="M401.3,195.3 v-2.0 M436.0,211.2 v-2.0 M441.2,211.2 v-2.0 M442.8,211.2 v-2.0 M451.0,216.1 v-2.0 M453.2,216.1 v-2.0 M455.7,216.1 v-2.0 M458.5,216.1 v-2.0 M462.8,216.1 v-2.0 M471.3,216.1 v-2.0 M483.8,216.1 v-2.0" stroke="#444" stroke-width="0.75" fill="none" />
<path d="M421,200.6 H423.5" stroke="#444" stroke-width="1.6" fill="none" />
<path d="M421.6,230.3 v-2.0 M435.8,236.0 v-2.0 M441.2,236.0 v-2.0 M442.8,236.0 v-2.0 M448.6,236.0 v-2.0 M452.1,236.0 v-2.0 M453.4,236.0 v-2.0 M457.4,236.0 v-2.0 M461.7,236.0 v-2.0 M483.8,236.0 v-2.0" stroke="#767676" stroke-width="0.75" fill="none" />
<text x="505.8" y="164.0" font-size="5.9" fill="#111" text-anchor="middle" font-weight="normal" stroke="#111" stroke-width="0.18">Median</text>
<text x="473.6" y="169.8" font-size="5.9" fill="#111" text-anchor="middle" font-weight="normal" stroke="#111" stroke-width="0.18">Events / N</text>
<text x="505" y="169.8" font-size="5.9" fill="#111" text-anchor="middle" font-weight="normal" stroke="#111" stroke-width="0.18">in Months</text>
<text x="440.1" y="175.7" font-size="5.9" fill="#111" text-anchor="start" font-weight="normal" stroke="#111" stroke-width="0.18">OS</text>
<text x="473.2" y="175.7" font-size="5.9" fill="#111" text-anchor="middle" font-weight="normal" stroke="#111" stroke-width="0.18">19 / 40</text>
<text x="494.6" y="175.7" font-size="5.9" fill="#111" text-anchor="middle" font-weight="normal" stroke="#111" stroke-width="0.18">43</text>
<text x="510.2" y="175.7" font-size="5.9" fill="#111" text-anchor="middle" font-weight="normal" stroke="#111" stroke-width="0.18">(28,43)</text>
<text x="440.1" y="181.9" font-size="5.9" fill="#777" text-anchor="start" font-weight="normal" stroke="#777" stroke-width="0.18">PFS</text>
<text x="473.2" y="181.9" font-size="5.9" fill="#777" text-anchor="middle" font-weight="normal" stroke="#777" stroke-width="0.18">28 / 40</text>
<text x="494.6" y="181.9" font-size="5.9" fill="#777" text-anchor="middle" font-weight="normal" stroke="#777" stroke-width="0.18">19</text>
<text x="510.2" y="181.9" font-size="5.9" fill="#777" text-anchor="middle" font-weight="normal" stroke="#777" stroke-width="0.18">(11,30)</text>
</svg>
</body></html>
